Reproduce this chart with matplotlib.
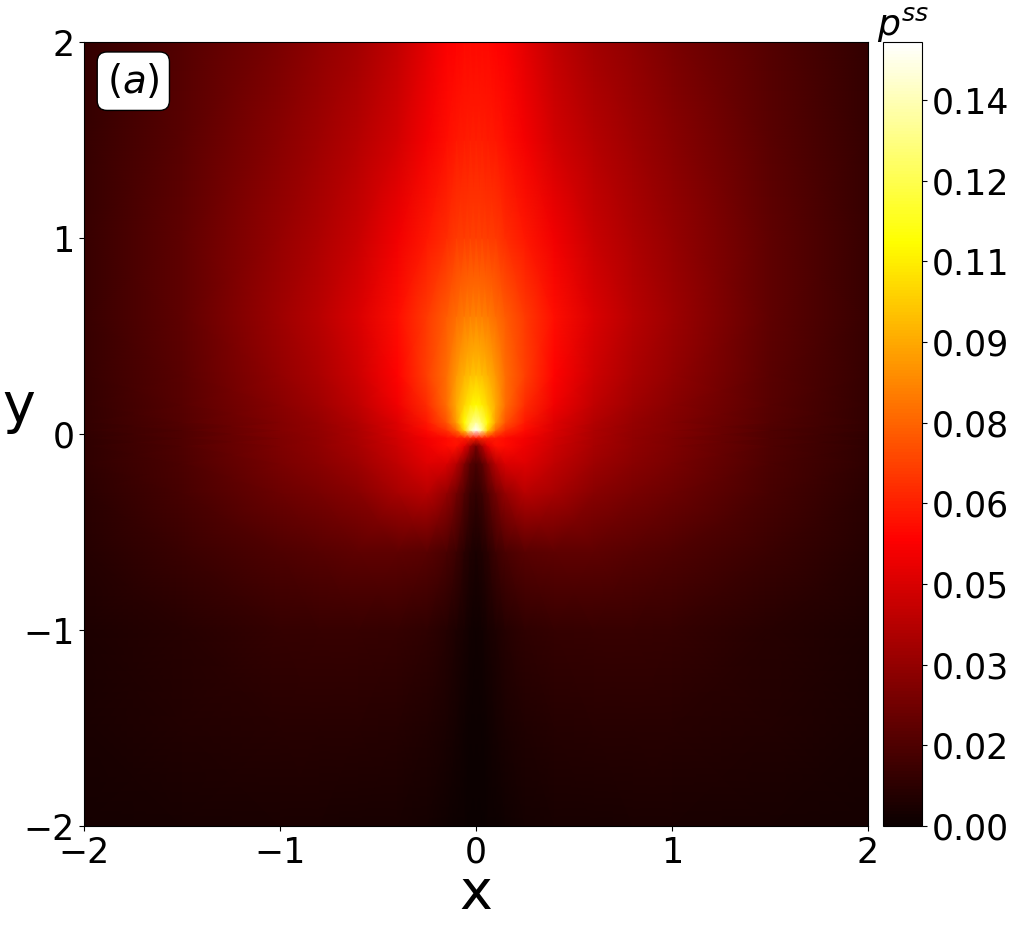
import numpy as np
import matplotlib
matplotlib.use("Agg")
import matplotlib.pyplot as plt

P_MAX = 0.1512
x_half = [0, .03, .06, .1, .15, .25, .4, .6, .8, 1, 1.5, 2]
y_vals = [-2, -1.5, -1, -.6, -.3, -.15, -.06, -.02, .02, .06, .15, .3, .6, 1, 1.5, 2]
r00 = [.001, .002, .004, .007, .01, .016, .02, .022, .024, .024, .022, .018]
r01 = [.004, .006, .01, .016, .024, .034, .04, .043, .046, .046, .036, .024]
r02 = [.008, .012, .02, .03, .042, .058, .066, .068, .068, .066, .045, .028]
r03 = [.026, .035, .05, .075, .095, .12, .128, .125, .115, .105, .072, .04]
r04 = [.06, .075, .11, .16, .21, .26, .235, .19, .165, .145, .09, .05]
r05 = [.09, .12, .18, .26, .31, .32, .27, .22, .19, .165, .10, .056]
r06 = [.16, .24, .33, .39, .38, .34, .29, .235, .20, .175, .105, .058]
r07 = [.40, .42, .41, .40, .38, .35, .30, .24, .20, .175, .105, .058]
r08 = [1.0, .90, .68, .52, .44, .38, .31, .245, .205, .18, .105, .06]
r09 = [.90, .84, .74, .60, .49, .40, .32, .25, .21, .18, .11, .06]
r10 = [.74, .72, .68, .62, .53, .43, .345, .27, .225, .19, .115, .062]
r11 = [.66, .65, .63, .59, .53, .46, .37, .29, .24, .205, .12, .065]
r12 = [.56, .555, .55, .53, .50, .45, .385, .31, .26, .22, .125, .068]
r13 = [.46, .46, .455, .45, .43, .40, .345, .285, .245, .21, .125, .07]
r14 = [.41, .41, .405, .40, .385, .35, .30, .255, .22, .19, .12, .065]
r15 = [.375, .375, .375, .37, .36, .325, .275, .23, .20, .17, .11, .06]
rows = [r00, r01, r02, r03, r04, r05, r06, r07, r08, r09, r10, r11, r12, r13, r14, r15]
cbar_ticks = [0, .0156, .0311, .0467, .0622, .0778, .0933, .1089, .1244, .14]
axis_ticks = [-2, -1, 0, 1, 2]

half = np.array(rows) * P_MAX
Z = np.hstack([half[:, :0:-1], half])
X = np.concatenate([-np.array(x_half)[:0:-1], x_half])
Y = np.array(y_vals)

W, H = 1011, 925
fig = plt.figure(figsize=(W / 100, H / 100), dpi=100)
ax = fig.add_axes([84 / W, 1 - 826 / H, 784 / W, 784 / H])
m = ax.pcolormesh(X, Y, Z, cmap="hot", vmin=0, vmax=P_MAX, shading="gouraud")
ax.set_xlim(-2, 2)
ax.set_ylim(-2, 2)
ax.set_xticks(axis_ticks)
ax.set_yticks(axis_ticks)
ax.tick_params(labelsize=25)
ax.set_xlabel("x", fontsize=40, labelpad=-2)
ax.set_ylabel("y", fontsize=40, rotation=0, labelpad=3)
ax.text(-1.883, 1.8, r"$(a)$", fontsize=28, ha="left", va="center",
        bbox=dict(boxstyle="round,pad=0.25", fc="white", ec="black"))

cax = fig.add_axes([883 / W, 1 - 826 / H, 39 / W, 784 / H])
cb = fig.colorbar(m, cax=cax, ticks=cbar_ticks, format="%.2f")
cb.ax.tick_params(labelsize=25)
cb.ax.text(0.52, 0.997, r"$p^{ss}$", transform=cb.ax.transAxes, fontsize=26,
           ha="center", va="bottom")
fig.savefig("out.png", dpi=100)
